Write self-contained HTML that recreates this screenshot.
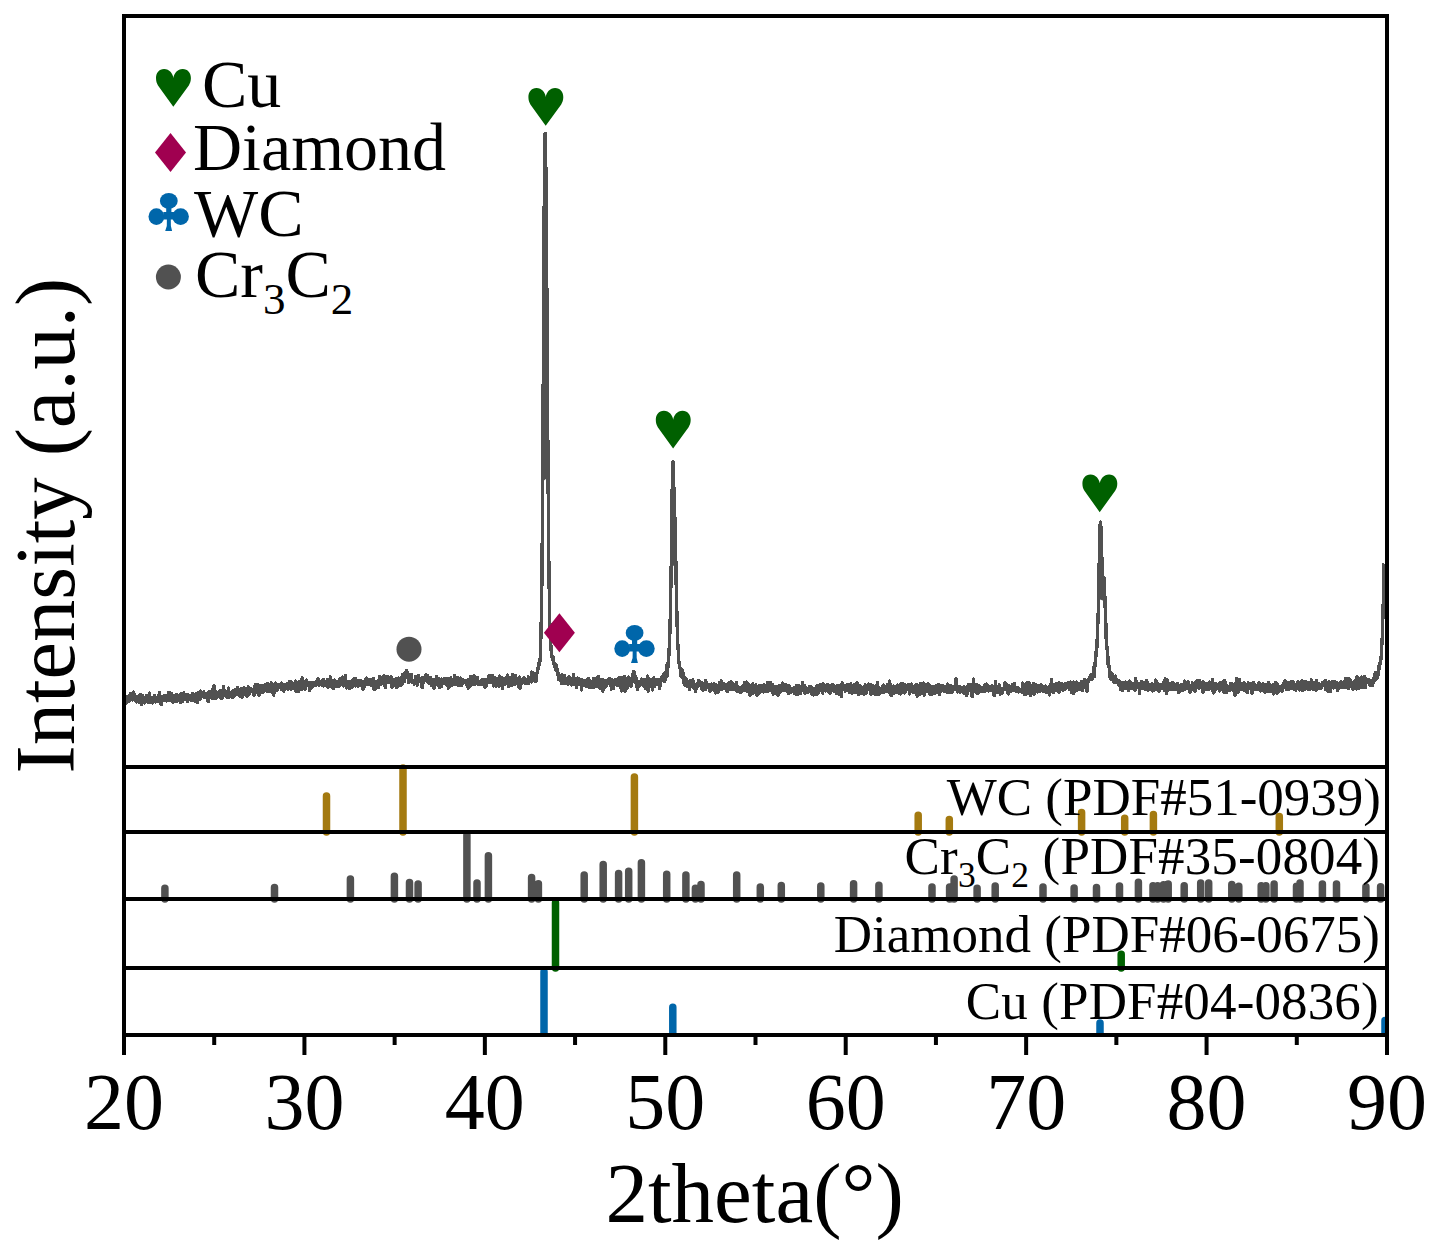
<!DOCTYPE html><html><head><meta charset="utf-8"><style>html,body{margin:0;padding:0;background:#fff;width:1445px;height:1249px;overflow:hidden}svg{display:block}</style></head><body><svg width="1445" height="1249" viewBox="0 0 1445 1249"><rect width="1445" height="1249" fill="#fff"/><defs><clipPath id="cp"><rect x="126" y="18" width="1259" height="748"/></clipPath><clipPath id="cpb"><rect x="126" y="900" width="1259" height="135"/></clipPath></defs><polygon points="542.68,481.5 543.04,421.5 543.40,354.4 543.76,285.0 544.12,220.5 544.48,169.6 544.84,139.9 545.20,133.6 545.56,147.3 545.92,175.5 546.28,213.8 546.64,260.3 547.00,313.4 547.36,369.9 547.72,425.7 548.08,477.3" fill="#515151"/><polygon points="671.20,566.4 671.56,539.1 671.92,509.6 672.28,482.7 672.64,465.0 673.00,461.2 673.36,469.5 673.72,483.1 674.08,496.4 674.44,507.0 674.80,516.7 675.16,528.7 675.52,545.2 675.88,564.9" fill="#515151"/><polygon points="1098.52,599.0 1098.88,582.4 1099.24,563.9 1099.60,545.4 1099.96,530.2 1100.32,522.0 1100.68,522.9 1101.04,531.5 1101.40,544.1 1101.76,556.7 1102.12,567.0 1102.48,573.7 1102.84,577.0 1103.20,577.6 1103.56,577.1 1103.92,577.9 1104.28,581.9 1104.64,589.7 1105.00,601.3" fill="#515151"/><polyline clip-path="url(#cp)" points="124.0,699.3 124.4,700.1 124.7,698.5 125.1,696.8 125.4,698.0 125.8,696.5 126.2,699.4 126.5,703.0 126.9,697.9 127.2,697.5 127.6,700.6 128.0,700.2 128.3,699.5 128.7,696.6 129.0,699.1 129.4,701.1 129.8,695.4 130.1,697.9 130.5,693.8 130.8,695.5 131.2,694.0 131.6,698.5 131.9,695.6 132.3,699.9 132.6,699.6 133.0,698.6 133.4,692.1 133.7,697.6 134.1,699.0 134.4,699.4 134.8,694.8 135.2,697.7 135.5,696.3 135.9,696.8 136.2,702.0 136.6,696.8 137.0,699.0 137.3,701.5 137.7,697.4 138.0,698.7 138.4,699.3 138.8,699.2 139.1,695.6 139.5,699.2 139.8,702.8 140.2,694.6 140.6,701.4 140.9,699.3 141.3,697.2 141.6,704.6 142.0,701.1 142.4,695.6 142.7,699.1 143.1,700.5 143.4,698.4 143.8,700.8 144.2,698.7 144.5,700.8 144.9,702.9 145.2,697.0 145.6,699.4 146.0,697.6 146.3,699.2 146.7,695.5 147.0,697.2 147.4,698.3 147.8,701.4 148.1,702.0 148.5,695.1 148.8,696.6 149.2,700.6 149.6,693.2 149.9,697.5 150.3,698.5 150.6,702.3 151.0,700.7 151.4,697.8 151.7,697.7 152.1,698.0 152.4,703.0 152.8,697.5 153.2,697.9 153.5,699.7 153.9,698.3 154.2,698.1 154.6,695.5 155.0,698.6 155.3,697.4 155.7,701.9 156.0,700.5 156.4,698.6 156.8,700.5 157.1,697.6 157.5,701.5 157.8,698.6 158.2,700.2 158.6,694.9 158.9,699.5 159.3,693.8 159.6,692.8 160.0,697.7 160.4,696.0 160.7,699.0 161.1,704.8 161.4,696.2 161.8,696.7 162.2,699.0 162.5,699.8 162.9,698.0 163.2,697.9 163.6,700.4 164.0,699.9 164.3,695.5 164.7,698.2 165.0,698.5 165.4,695.4 165.8,699.1 166.1,696.0 166.5,701.1 166.8,698.9 167.2,698.6 167.6,696.7 167.9,698.0 168.3,692.7 168.6,695.1 169.0,699.3 169.4,692.3 169.7,700.6 170.1,693.4 170.4,700.4 170.8,695.9 171.2,700.4 171.5,698.6 171.9,693.9 172.2,701.7 172.6,702.2 173.0,698.0 173.3,697.4 173.7,697.7 174.0,695.4 174.4,701.2 174.8,696.6 175.1,698.0 175.5,695.9 175.8,696.3 176.2,694.5 176.6,701.6 176.9,697.6 177.3,700.8 177.6,698.1 178.0,696.1 178.4,697.1 178.7,696.5 179.1,698.0 179.4,697.0 179.8,697.2 180.2,694.1 180.5,695.7 180.9,702.6 181.2,696.0 181.6,695.0 182.0,698.8 182.3,701.8 182.7,693.8 183.0,697.3 183.4,696.0 183.8,692.9 184.1,699.8 184.5,697.7 184.8,697.9 185.2,695.6 185.6,699.0 185.9,696.2 186.3,697.3 186.6,694.6 187.0,694.2 187.4,701.4 187.7,696.2 188.1,698.4 188.4,697.5 188.8,696.3 189.2,696.1 189.5,699.3 189.9,696.7 190.2,697.1 190.6,697.5 191.0,700.7 191.3,699.3 191.7,698.5 192.0,695.8 192.4,693.5 192.8,700.0 193.1,700.0 193.5,696.9 193.8,698.8 194.2,699.5 194.6,699.6 194.9,699.8 195.3,695.9 195.6,701.4 196.0,693.7 196.4,699.6 196.7,698.5 197.1,699.6 197.4,702.4 197.8,701.3 198.2,693.9 198.5,692.3 198.9,699.3 199.2,694.2 199.6,697.0 200.0,699.3 200.3,692.3 200.7,691.0 201.0,697.6 201.4,696.9 201.8,696.1 202.1,696.8 202.5,694.2 202.8,692.4 203.2,696.1 203.6,693.8 203.9,691.9 204.3,697.8 204.6,696.2 205.0,697.4 205.4,693.5 205.7,694.4 206.1,693.4 206.4,693.6 206.8,696.6 207.2,693.8 207.5,697.0 207.9,696.9 208.2,701.5 208.6,691.9 209.0,698.3 209.3,695.5 209.7,695.6 210.0,691.6 210.4,694.3 210.8,697.6 211.1,695.2 211.5,695.6 211.8,694.6 212.2,698.6 212.6,695.2 212.9,689.1 213.3,693.2 213.6,689.6 214.0,686.0 214.4,693.5 214.7,698.7 215.1,695.1 215.4,691.6 215.8,692.2 216.2,697.9 216.5,695.2 216.9,694.8 217.2,694.5 217.6,694.7 218.0,696.8 218.3,696.0 218.7,695.0 219.0,691.5 219.4,695.8 219.8,692.4 220.1,697.3 220.5,690.6 220.8,693.8 221.2,694.1 221.6,690.3 221.9,698.8 222.3,698.0 222.6,692.6 223.0,696.0 223.4,694.9 223.7,686.5 224.1,694.4 224.4,693.5 224.8,693.9 225.2,690.6 225.5,692.8 225.9,693.0 226.2,696.8 226.6,694.4 227.0,693.4 227.3,697.6 227.7,691.7 228.0,692.2 228.4,688.1 228.8,697.6 229.1,695.8 229.5,695.6 229.8,694.9 230.2,693.3 230.6,693.5 230.9,692.2 231.3,692.3 231.6,693.0 232.0,697.0 232.4,694.3 232.7,692.5 233.1,691.0 233.4,690.8 233.8,697.0 234.2,693.9 234.5,692.7 234.9,691.4 235.2,689.3 235.6,692.1 236.0,694.7 236.3,691.1 236.7,691.6 237.0,691.5 237.4,692.4 237.8,687.6 238.1,691.4 238.5,689.6 238.8,694.4 239.2,689.7 239.6,693.5 239.9,696.1 240.3,690.9 240.6,690.0 241.0,692.2 241.4,691.6 241.7,688.8 242.1,692.8 242.4,697.1 242.8,690.7 243.2,690.8 243.5,688.4 243.9,692.2 244.2,687.8 244.6,688.1 245.0,694.8 245.3,688.6 245.7,694.1 246.0,695.3 246.4,691.7 246.8,692.5 247.1,696.4 247.5,690.3 247.8,689.2 248.2,687.0 248.6,690.9 248.9,694.8 249.3,693.3 249.6,688.0 250.0,688.2 250.4,689.1 250.7,691.3 251.1,689.9 251.4,691.0 251.8,691.2 252.2,689.5 252.5,690.1 252.9,690.8 253.2,689.9 253.6,691.5 254.0,695.3 254.3,691.7 254.7,690.1 255.0,685.2 255.4,691.0 255.8,684.4 256.1,685.8 256.5,692.1 256.8,691.7 257.2,689.2 257.6,684.8 257.9,688.5 258.3,687.6 258.6,691.3 259.0,695.8 259.4,690.0 259.7,687.2 260.1,686.0 260.4,689.1 260.8,688.7 261.2,685.9 261.5,689.4 261.9,685.9 262.2,692.1 262.6,692.0 263.0,692.0 263.3,687.6 263.7,690.3 264.0,688.4 264.4,687.7 264.8,687.8 265.1,685.0 265.5,684.6 265.8,690.8 266.2,688.0 266.6,689.2 266.9,691.3 267.3,683.6 267.6,686.3 268.0,688.9 268.4,689.5 268.7,687.3 269.1,691.2 269.4,688.9 269.8,684.9 270.2,685.6 270.5,690.5 270.9,689.5 271.2,682.8 271.6,691.9 272.0,689.8 272.3,691.8 272.7,687.0 273.0,687.2 273.4,684.8 273.8,695.1 274.1,687.4 274.5,692.3 274.8,686.0 275.2,688.3 275.6,683.1 275.9,686.7 276.3,690.5 276.6,684.2 277.0,690.7 277.4,688.6 277.7,684.7 278.1,686.2 278.4,686.3 278.8,687.4 279.2,686.0 279.5,685.1 279.9,686.6 280.2,684.5 280.6,683.8 281.0,687.2 281.3,689.8 281.7,683.0 282.0,687.3 282.4,685.4 282.8,684.5 283.1,689.5 283.5,685.7 283.8,691.3 284.2,684.9 284.6,688.1 284.9,686.4 285.3,684.9 285.6,688.6 286.0,686.5 286.4,688.6 286.7,686.7 287.1,683.8 287.4,686.5 287.8,686.9 288.2,689.4 288.5,684.2 288.9,686.6 289.2,681.8 289.6,688.4 290.0,683.6 290.3,681.5 290.7,686.4 291.0,689.6 291.4,682.2 291.8,683.4 292.1,684.4 292.5,683.3 292.8,687.5 293.2,684.1 293.6,684.3 293.9,688.0 294.3,684.2 294.6,687.5 295.0,683.5 295.4,682.8 295.7,681.1 296.1,691.4 296.4,685.3 296.8,686.8 297.2,686.0 297.5,686.5 297.9,686.2 298.2,691.4 298.6,683.1 299.0,681.6 299.3,683.1 299.7,682.2 300.0,688.0 300.4,688.2 300.8,683.2 301.1,682.0 301.5,684.8 301.8,689.7 302.2,677.9 302.6,687.2 302.9,682.7 303.3,688.6 303.6,682.7 304.0,684.9 304.4,681.4 304.7,682.9 305.1,689.5 305.4,687.9 305.8,684.4 306.2,683.1 306.5,680.2 306.9,684.4 307.2,685.4 307.6,685.2 308.0,685.2 308.3,682.3 308.7,685.2 309.0,685.2 309.4,688.9 309.8,690.5 310.1,684.9 310.5,683.1 310.8,685.0 311.2,683.5 311.6,683.1 311.9,685.0 312.3,682.2 312.6,686.8 313.0,684.8 313.4,685.8 313.7,684.5 314.1,683.0 314.4,682.3 314.8,684.3 315.2,683.4 315.5,685.6 315.9,684.9 316.2,681.1 316.6,685.0 317.0,681.1 317.3,683.1 317.7,684.0 318.0,678.9 318.4,685.0 318.8,685.1 319.1,684.2 319.5,683.5 319.8,683.6 320.2,681.9 320.6,683.8 320.9,683.0 321.3,684.8 321.6,681.1 322.0,685.2 322.4,684.9 322.7,684.1 323.1,683.2 323.4,685.9 323.8,679.7 324.2,685.6 324.5,685.0 324.9,685.1 325.2,685.4 325.6,682.4 326.0,683.5 326.3,686.0 326.7,685.4 327.0,684.7 327.4,679.9 327.8,685.6 328.1,687.4 328.5,686.9 328.8,684.7 329.2,679.7 329.6,686.6 329.9,683.6 330.3,676.9 330.6,685.0 331.0,679.8 331.4,680.3 331.7,682.1 332.1,687.4 332.4,682.8 332.8,684.6 333.2,688.7 333.5,688.3 333.9,683.5 334.2,683.1 334.6,680.2 335.0,681.8 335.3,684.9 335.7,684.8 336.0,684.0 336.4,686.5 336.8,681.5 337.1,683.5 337.5,685.7 337.8,685.3 338.2,686.6 338.6,684.7 338.9,682.7 339.3,684.6 339.6,680.7 340.0,678.9 340.4,685.1 340.7,683.3 341.1,684.3 341.4,678.7 341.8,682.4 342.2,681.8 342.5,681.0 342.9,677.1 343.2,682.4 343.6,685.9 344.0,684.4 344.3,681.7 344.7,683.3 345.0,685.4 345.4,675.6 345.8,682.9 346.1,684.8 346.5,685.1 346.8,688.0 347.2,686.4 347.6,684.1 347.9,684.0 348.3,685.4 348.6,681.6 349.0,683.0 349.4,685.7 349.7,688.6 350.1,682.7 350.4,683.0 350.8,683.7 351.2,686.9 351.5,683.0 351.9,687.2 352.2,680.4 352.6,682.5 353.0,682.5 353.3,685.2 353.7,686.0 354.0,678.8 354.4,680.5 354.8,683.9 355.1,681.2 355.5,678.7 355.8,685.9 356.2,684.4 356.6,684.3 356.9,681.6 357.3,685.8 357.6,682.3 358.0,686.0 358.4,680.4 358.7,680.5 359.1,683.5 359.4,680.9 359.8,684.8 360.2,683.6 360.5,680.3 360.9,683.1 361.2,681.9 361.6,685.4 362.0,681.1 362.3,681.6 362.7,686.2 363.0,689.1 363.4,688.4 363.8,683.0 364.1,683.4 364.5,687.1 364.8,682.4 365.2,680.0 365.6,683.1 365.9,684.0 366.3,680.4 366.6,678.1 367.0,678.7 367.4,684.6 367.7,680.6 368.1,682.3 368.4,683.3 368.8,684.4 369.2,681.7 369.5,684.0 369.9,680.1 370.2,681.6 370.6,679.7 371.0,685.8 371.3,682.5 371.7,680.5 372.0,681.6 372.4,681.9 372.8,684.5 373.1,678.1 373.5,679.6 373.8,681.5 374.2,689.6 374.6,685.2 374.9,682.2 375.3,684.4 375.6,688.2 376.0,681.8 376.4,681.4 376.7,685.8 377.1,683.8 377.4,684.2 377.8,680.9 378.2,687.7 378.5,687.1 378.9,683.9 379.2,684.2 379.6,676.6 380.0,684.0 380.3,681.7 380.7,683.4 381.0,684.1 381.4,681.2 381.8,677.4 382.1,683.2 382.5,680.1 382.8,681.2 383.2,680.4 383.6,681.1 383.9,675.6 384.3,685.5 384.6,682.7 385.0,685.1 385.4,687.5 385.7,682.0 386.1,676.9 386.4,679.4 386.8,678.6 387.2,680.5 387.5,682.1 387.9,676.3 388.2,682.8 388.6,677.6 389.0,682.7 389.3,681.5 389.7,680.9 390.0,681.6 390.4,680.3 390.8,680.0 391.1,677.0 391.5,681.6 391.8,686.9 392.2,687.2 392.6,685.4 392.9,683.6 393.3,679.7 393.6,685.6 394.0,681.4 394.4,681.4 394.7,680.7 395.1,681.8 395.4,680.3 395.8,681.2 396.2,678.4 396.5,680.4 396.9,687.8 397.2,681.2 397.6,680.7 398.0,682.8 398.3,683.3 398.7,678.1 399.0,680.6 399.4,683.7 399.8,681.8 400.1,681.3 400.5,685.2 400.8,678.8 401.2,680.8 401.6,678.9 401.9,684.2 402.3,674.3 402.6,677.6 403.0,677.6 403.4,680.6 403.7,680.0 404.1,681.8 404.4,673.1 404.8,679.2 405.2,675.9 405.5,674.6 405.9,677.8 406.2,673.6 406.6,670.4 407.0,675.3 407.3,672.4 407.7,675.1 408.0,678.3 408.4,678.5 408.8,682.4 409.1,677.8 409.5,674.5 409.8,677.0 410.2,676.8 410.6,676.2 410.9,681.1 411.3,678.3 411.6,674.7 412.0,682.3 412.4,680.1 412.7,681.5 413.1,680.9 413.4,682.4 413.8,680.7 414.2,684.1 414.5,681.9 414.9,681.8 415.2,681.8 415.6,676.6 416.0,680.2 416.3,679.9 416.7,681.2 417.0,676.9 417.4,685.2 417.8,680.9 418.1,677.2 418.5,675.8 418.8,679.8 419.2,680.4 419.6,678.6 419.9,680.8 420.3,678.8 420.6,682.1 421.0,678.5 421.4,680.4 421.7,683.3 422.1,687.7 422.4,677.7 422.8,679.2 423.2,678.2 423.5,682.7 423.9,677.3 424.2,679.2 424.6,680.5 425.0,677.9 425.3,678.0 425.7,679.4 426.0,674.8 426.4,676.7 426.8,679.6 427.1,681.2 427.5,680.3 427.8,675.9 428.2,679.6 428.6,683.1 428.9,682.5 429.3,680.7 429.6,678.5 430.0,682.8 430.4,679.4 430.7,677.8 431.1,678.9 431.4,685.2 431.8,681.8 432.2,684.4 432.5,679.9 432.9,683.9 433.2,679.6 433.6,680.8 434.0,688.3 434.3,683.5 434.7,679.9 435.0,681.1 435.4,682.3 435.8,684.7 436.1,680.0 436.5,676.5 436.8,680.6 437.2,681.4 437.6,681.7 437.9,685.1 438.3,682.3 438.6,683.7 439.0,678.3 439.4,683.8 439.7,687.3 440.1,683.6 440.4,682.1 440.8,681.9 441.2,686.5 441.5,678.9 441.9,681.1 442.2,682.8 442.6,683.6 443.0,680.3 443.3,682.3 443.7,680.7 444.0,681.8 444.4,681.1 444.8,678.3 445.1,681.5 445.5,684.0 445.8,678.8 446.2,680.9 446.6,683.4 446.9,678.6 447.3,682.1 447.6,678.6 448.0,684.7 448.4,688.1 448.7,687.2 449.1,681.0 449.4,683.7 449.8,681.9 450.2,681.9 450.5,686.0 450.9,677.9 451.2,684.6 451.6,681.5 452.0,685.6 452.3,682.2 452.7,679.8 453.0,682.4 453.4,683.7 453.8,681.8 454.1,683.0 454.5,680.2 454.8,675.7 455.2,684.2 455.6,683.7 455.9,682.1 456.3,681.9 456.6,684.6 457.0,680.5 457.4,679.8 457.7,681.2 458.1,685.1 458.4,677.9 458.8,685.1 459.2,680.0 459.5,678.7 459.9,685.3 460.2,681.5 460.6,678.2 461.0,680.8 461.3,684.4 461.7,685.1 462.0,680.6 462.4,683.0 462.8,683.8 463.1,680.0 463.5,682.8 463.8,681.8 464.2,680.4 464.6,680.5 464.9,682.1 465.3,681.9 465.6,680.3 466.0,680.7 466.4,685.0 466.7,682.4 467.1,684.3 467.4,685.2 467.8,683.5 468.2,688.2 468.5,679.5 468.9,684.1 469.2,680.9 469.6,687.0 470.0,686.6 470.3,676.3 470.7,679.1 471.0,683.7 471.4,684.0 471.8,683.9 472.1,681.6 472.5,683.1 472.8,683.6 473.2,681.6 473.6,684.7 473.9,675.5 474.3,683.6 474.6,678.9 475.0,684.5 475.4,681.1 475.7,679.3 476.1,682.8 476.4,679.2 476.8,679.2 477.2,677.4 477.5,681.7 477.9,683.1 478.2,684.6 478.6,681.3 479.0,684.7 479.3,681.8 479.7,681.5 480.0,683.3 480.4,684.7 480.8,680.8 481.1,681.0 481.5,681.2 481.8,681.9 482.2,679.2 482.6,684.6 482.9,680.6 483.3,683.0 483.6,679.4 484.0,682.7 484.4,682.8 484.7,680.5 485.1,687.3 485.4,682.7 485.8,686.6 486.2,684.3 486.5,679.8 486.9,680.6 487.2,682.8 487.6,681.8 488.0,681.8 488.3,680.8 488.7,676.5 489.0,681.0 489.4,675.4 489.8,682.6 490.1,679.6 490.5,679.6 490.8,681.0 491.2,682.3 491.6,677.6 491.9,676.7 492.3,678.6 492.6,675.8 493.0,678.8 493.4,686.0 493.7,678.6 494.1,683.3 494.4,677.7 494.8,682.3 495.2,680.6 495.5,681.3 495.9,683.1 496.2,686.4 496.6,682.0 497.0,681.8 497.3,678.7 497.7,683.1 498.0,680.8 498.4,683.8 498.8,681.4 499.1,686.4 499.5,675.9 499.8,680.7 500.2,684.0 500.6,680.5 500.9,679.3 501.3,680.7 501.6,677.6 502.0,681.8 502.4,688.3 502.7,684.7 503.1,678.4 503.4,679.0 503.8,680.4 504.2,684.3 504.5,679.2 504.9,679.6 505.2,684.0 505.6,683.9 506.0,680.4 506.3,678.4 506.7,677.1 507.0,679.5 507.4,675.2 507.8,683.6 508.1,679.7 508.5,682.8 508.8,686.7 509.2,684.7 509.6,678.2 509.9,683.9 510.3,684.7 510.6,679.3 511.0,678.8 511.4,681.1 511.7,676.9 512.1,685.5 512.4,674.7 512.8,678.3 513.2,680.6 513.5,680.7 513.9,681.8 514.2,682.1 514.6,680.8 515.0,684.5 515.3,675.3 515.7,681.3 516.0,679.3 516.4,681.7 516.8,681.9 517.1,678.7 517.5,679.5 517.8,683.4 518.2,682.2 518.6,679.3 518.9,686.9 519.3,687.6 519.6,677.0 520.0,681.9 520.4,688.1 520.7,683.2 521.1,681.6 521.4,680.4 521.8,679.5 522.2,680.3 522.5,679.4 522.9,682.9 523.2,679.7 523.6,679.5 524.0,677.4 524.3,680.6 524.7,678.1 525.0,680.1 525.4,683.4 525.8,681.5 526.1,681.8 526.5,681.3 526.8,680.4 527.2,679.8 527.6,679.2 527.9,682.1 528.3,676.8 528.6,683.5 529.0,679.8 529.4,677.5 529.7,678.1 530.1,677.4 530.4,679.6 530.8,677.0 531.2,682.0 531.5,676.5 531.9,672.1 532.2,676.2 532.6,672.4 533.0,677.7 533.3,680.5 533.7,679.0 534.0,673.2 534.4,674.4 534.8,681.1 535.1,676.6 535.5,675.3 535.8,677.7 536.2,681.0 536.6,677.1 536.9,673.1 537.3,672.9 537.6,672.7 538.0,668.1 538.4,665.6 538.7,667.1 539.1,662.4 539.4,662.5 539.8,659.6 540.2,661.2 540.5,645.5 540.9,637.4 541.2,622.9 541.6,601.4 542.0,571.5 542.3,531.7 542.7,481.5 543.0,421.5 543.4,354.4 543.8,285.0 544.1,220.5 544.5,169.6 544.8,139.9 545.2,133.6 545.6,147.3 545.9,175.5 546.3,213.8 546.6,260.3 547.0,313.4 547.4,369.9 547.7,425.7 548.1,477.3 548.4,522.1 548.8,559.2 549.2,588.6 549.5,610.6 549.9,626.8 550.2,637.8 550.6,640.2 551.0,649.8 551.3,650.7 551.7,653.4 552.0,656.6 552.4,658.5 552.8,659.8 553.1,656.6 553.5,661.3 553.8,663.0 554.2,664.2 554.6,666.3 554.9,663.6 555.3,665.1 555.6,669.5 556.0,664.9 556.4,670.8 556.7,670.1 557.1,671.8 557.4,669.0 557.8,672.3 558.2,675.6 558.5,678.8 558.9,679.6 559.2,677.1 559.6,677.2 560.0,675.7 560.3,679.4 560.7,677.8 561.0,680.4 561.4,683.8 561.8,678.9 562.1,675.0 562.5,676.9 562.8,675.3 563.2,676.2 563.6,683.3 563.9,680.3 564.3,675.5 564.6,681.7 565.0,683.5 565.4,679.0 565.7,678.2 566.1,679.3 566.4,681.1 566.8,682.1 567.2,683.7 567.5,683.9 567.9,683.9 568.2,684.4 568.6,682.5 569.0,676.4 569.3,680.4 569.7,681.7 570.0,679.8 570.4,683.5 570.8,680.0 571.1,678.4 571.5,685.1 571.8,683.0 572.2,681.7 572.6,683.8 572.9,684.2 573.3,682.2 573.6,674.4 574.0,679.4 574.4,680.1 574.7,678.6 575.1,682.0 575.4,684.8 575.8,680.1 576.2,678.3 576.5,687.2 576.9,680.3 577.2,678.1 577.6,682.3 578.0,682.8 578.3,679.7 578.7,683.9 579.0,680.4 579.4,679.2 579.8,682.3 580.1,684.0 580.5,680.1 580.8,682.8 581.2,681.7 581.6,689.9 581.9,680.0 582.3,685.9 582.6,681.9 583.0,681.8 583.4,684.2 583.7,684.7 584.1,685.8 584.4,683.2 584.8,680.6 585.2,680.8 585.5,683.8 585.9,684.0 586.2,686.3 586.6,683.6 587.0,685.5 587.3,686.8 587.7,683.0 588.0,678.4 588.4,679.3 588.8,678.6 589.1,687.2 589.5,680.4 589.8,686.2 590.2,684.4 590.6,687.6 590.9,685.7 591.3,682.6 591.6,682.4 592.0,683.2 592.4,683.5 592.7,681.5 593.1,683.0 593.4,687.6 593.8,678.3 594.2,683.9 594.5,680.6 594.9,683.7 595.2,685.6 595.6,683.1 596.0,685.4 596.3,678.9 596.7,686.4 597.0,681.7 597.4,685.1 597.8,683.9 598.1,676.2 598.5,681.4 598.8,684.1 599.2,687.9 599.6,684.4 599.9,684.3 600.3,679.7 600.6,687.6 601.0,688.7 601.4,683.7 601.7,683.0 602.1,679.1 602.4,686.1 602.8,691.2 603.2,685.6 603.5,687.2 603.9,685.1 604.2,680.9 604.6,687.4 605.0,680.2 605.3,683.0 605.7,684.4 606.0,686.1 606.4,684.8 606.8,684.7 607.1,681.5 607.5,680.0 607.8,683.8 608.2,681.6 608.6,680.0 608.9,680.1 609.3,682.3 609.6,678.4 610.0,679.9 610.4,679.1 610.7,684.1 611.1,684.8 611.4,689.2 611.8,679.4 612.2,681.7 612.5,686.2 612.9,683.0 613.2,682.7 613.6,688.4 614.0,682.7 614.3,680.4 614.7,679.9 615.0,684.6 615.4,684.5 615.8,679.8 616.1,680.8 616.5,685.1 616.8,685.2 617.2,681.8 617.6,685.3 617.9,685.2 618.3,678.6 618.6,682.7 619.0,684.7 619.4,682.0 619.7,677.6 620.1,682.8 620.4,685.7 620.8,688.0 621.2,677.4 621.5,690.9 621.9,680.4 622.2,686.2 622.6,687.0 623.0,686.3 623.3,684.0 623.7,680.3 624.0,685.3 624.4,681.6 624.8,676.5 625.1,691.5 625.5,685.6 625.8,688.7 626.2,681.0 626.6,687.7 626.9,688.0 627.3,687.9 627.6,683.4 628.0,680.1 628.4,682.9 628.7,677.1 629.1,678.4 629.4,683.2 629.8,679.9 630.2,681.8 630.5,681.4 630.9,686.4 631.2,683.7 631.6,679.0 632.0,681.4 632.3,674.8 632.7,675.0 633.0,677.8 633.4,671.5 633.8,674.3 634.1,671.9 634.5,676.7 634.8,682.0 635.2,676.4 635.6,680.2 635.9,678.1 636.3,678.2 636.6,678.6 637.0,686.6 637.4,689.5 637.7,684.5 638.1,681.4 638.4,685.5 638.8,682.6 639.2,685.9 639.5,684.5 639.9,684.5 640.2,685.4 640.6,682.1 641.0,682.7 641.3,679.0 641.7,682.6 642.0,679.8 642.4,683.4 642.8,681.2 643.1,684.1 643.5,685.1 643.8,679.9 644.2,681.6 644.6,681.2 644.9,685.9 645.3,688.6 645.6,686.2 646.0,682.8 646.4,687.9 646.7,679.6 647.1,688.0 647.4,682.0 647.8,676.0 648.2,691.2 648.5,688.2 648.9,680.8 649.2,684.2 649.6,683.1 650.0,684.0 650.3,679.5 650.7,681.7 651.0,684.9 651.4,684.2 651.8,686.9 652.1,683.7 652.5,690.0 652.8,681.4 653.2,684.0 653.6,677.9 653.9,679.7 654.3,686.8 654.6,680.4 655.0,684.5 655.4,682.7 655.7,679.9 656.1,681.7 656.4,681.2 656.8,681.1 657.2,684.5 657.5,684.1 657.9,680.5 658.2,679.5 658.6,682.7 659.0,681.4 659.3,684.4 659.7,688.8 660.0,683.5 660.4,680.9 660.8,680.2 661.1,678.1 661.5,677.7 661.8,677.1 662.2,678.5 662.6,678.0 662.9,680.9 663.3,677.2 663.6,677.3 664.0,673.9 664.4,681.3 664.7,677.4 665.1,680.2 665.4,676.6 665.8,677.5 666.2,671.5 666.5,672.8 666.9,676.8 667.2,664.0 667.6,668.5 668.0,667.3 668.3,660.5 668.7,657.4 669.0,653.7 669.4,643.4 669.8,634.7 670.1,623.3 670.5,608.5 670.8,589.7 671.2,566.4 671.6,539.1 671.9,509.6 672.3,482.7 672.6,465.0 673.0,461.2 673.4,469.5 673.7,483.1 674.1,496.4 674.4,507.0 674.8,516.7 675.2,528.7 675.5,545.2 675.9,564.9 676.2,584.9 676.6,602.9 677.0,618.2 677.3,630.2 677.7,644.2 678.0,644.5 678.4,654.3 678.8,662.7 679.1,661.6 679.5,663.9 679.8,667.8 680.2,668.2 680.6,675.6 680.9,670.0 681.3,676.3 681.6,671.3 682.0,677.8 682.4,676.4 682.7,670.0 683.1,678.1 683.4,675.6 683.8,677.9 684.2,684.1 684.5,676.9 684.9,677.4 685.2,685.0 685.6,681.5 686.0,685.9 686.3,682.7 686.7,679.5 687.0,682.1 687.4,686.1 687.8,685.4 688.1,682.9 688.5,683.3 688.8,683.0 689.2,681.8 689.6,689.2 689.9,683.8 690.3,680.7 690.6,682.7 691.0,686.3 691.4,686.1 691.7,684.0 692.1,682.6 692.4,684.7 692.8,679.9 693.2,681.1 693.5,687.2 693.9,683.6 694.2,686.2 694.6,688.7 695.0,687.2 695.3,685.4 695.7,691.6 696.0,687.4 696.4,684.6 696.8,687.8 697.1,686.9 697.5,683.3 697.8,686.1 698.2,685.5 698.6,680.3 698.9,685.6 699.3,685.3 699.6,684.9 700.0,681.5 700.4,685.3 700.7,686.2 701.1,686.7 701.4,683.2 701.8,688.3 702.2,683.1 702.5,686.0 702.9,690.4 703.2,684.7 703.6,685.3 704.0,689.9 704.3,685.7 704.7,686.0 705.0,687.5 705.4,689.8 705.8,680.5 706.1,684.4 706.5,683.9 706.8,683.7 707.2,684.4 707.6,684.4 707.9,687.7 708.3,684.3 708.6,687.2 709.0,688.0 709.4,684.7 709.7,687.2 710.1,691.5 710.4,687.8 710.8,685.0 711.2,686.6 711.5,684.2 711.9,687.6 712.2,689.3 712.6,684.5 713.0,686.2 713.3,690.0 713.7,685.4 714.0,687.3 714.4,683.9 714.8,684.4 715.1,685.3 715.5,692.9 715.8,685.6 716.2,685.3 716.6,685.2 716.9,686.3 717.3,688.6 717.6,687.3 718.0,692.5 718.4,687.3 718.7,690.8 719.1,687.5 719.4,688.4 719.8,682.6 720.2,686.3 720.5,686.5 720.9,686.0 721.2,680.7 721.6,689.2 722.0,685.7 722.3,685.6 722.7,686.1 723.0,686.2 723.4,688.1 723.8,683.4 724.1,684.4 724.5,687.9 724.8,687.5 725.2,686.1 725.6,685.6 725.9,684.9 726.3,687.1 726.6,690.6 727.0,684.4 727.4,691.6 727.7,689.8 728.1,686.2 728.4,689.7 728.8,683.4 729.2,682.7 729.5,684.0 729.9,686.5 730.2,686.8 730.6,686.3 731.0,688.0 731.3,681.8 731.7,689.2 732.0,683.9 732.4,686.1 732.8,686.8 733.1,684.7 733.5,684.2 733.8,685.2 734.2,688.1 734.6,689.8 734.9,689.8 735.3,685.4 735.6,686.0 736.0,685.7 736.4,689.6 736.7,682.7 737.1,691.9 737.4,687.1 737.8,686.3 738.2,689.5 738.5,691.4 738.9,689.6 739.2,691.6 739.6,689.0 740.0,692.2 740.3,692.2 740.7,688.4 741.0,692.7 741.4,689.2 741.8,689.0 742.1,686.1 742.5,687.9 742.8,690.9 743.2,685.1 743.6,690.5 743.9,689.7 744.3,689.5 744.6,682.6 745.0,688.4 745.4,690.6 745.7,686.6 746.1,689.0 746.4,682.1 746.8,690.6 747.2,686.9 747.5,691.2 747.9,683.6 748.2,690.7 748.6,688.1 749.0,691.0 749.3,686.2 749.7,687.0 750.0,695.0 750.4,686.4 750.8,686.8 751.1,688.0 751.5,685.9 751.8,692.1 752.2,693.6 752.6,686.8 752.9,683.9 753.3,692.0 753.6,691.9 754.0,691.1 754.4,692.0 754.7,686.3 755.1,688.3 755.4,684.9 755.8,684.8 756.2,691.5 756.5,686.9 756.9,695.2 757.2,689.0 757.6,687.0 758.0,691.0 758.3,693.8 758.7,690.1 759.0,685.4 759.4,689.8 759.8,692.6 760.1,687.4 760.5,686.6 760.8,691.6 761.2,689.2 761.6,685.7 761.9,687.7 762.3,686.7 762.6,689.6 763.0,689.1 763.4,692.0 763.7,690.8 764.1,684.4 764.4,689.9 764.8,691.3 765.2,690.1 765.5,691.7 765.9,687.3 766.2,686.1 766.6,691.4 767.0,685.8 767.3,682.7 767.7,691.7 768.0,686.8 768.4,687.9 768.8,684.9 769.1,685.1 769.5,685.6 769.8,687.8 770.2,689.8 770.6,682.4 770.9,690.9 771.3,685.5 771.6,685.8 772.0,690.7 772.4,688.6 772.7,684.5 773.1,694.0 773.4,686.4 773.8,689.5 774.2,689.4 774.5,692.8 774.9,687.5 775.2,691.6 775.6,686.7 776.0,692.0 776.3,686.7 776.7,687.8 777.0,694.1 777.4,689.7 777.8,689.1 778.1,695.1 778.5,689.8 778.8,686.5 779.2,690.9 779.6,685.5 779.9,692.0 780.3,692.2 780.6,687.2 781.0,687.1 781.4,689.3 781.7,688.9 782.1,686.1 782.4,690.4 782.8,683.1 783.2,687.6 783.5,687.7 783.9,688.1 784.2,689.7 784.6,685.4 785.0,690.5 785.3,688.3 785.7,687.0 786.0,685.0 786.4,685.5 786.8,689.8 787.1,686.1 787.5,689.0 787.8,691.8 788.2,691.7 788.6,693.2 788.9,688.0 789.3,685.8 789.6,691.7 790.0,689.7 790.4,692.0 790.7,688.9 791.1,692.2 791.4,691.2 791.8,690.8 792.2,690.2 792.5,689.9 792.9,689.5 793.2,689.5 793.6,691.6 794.0,687.4 794.3,693.7 794.7,688.5 795.0,691.6 795.4,688.6 795.8,688.1 796.1,694.5 796.5,688.0 796.8,685.3 797.2,686.8 797.6,687.9 797.9,694.9 798.3,689.4 798.6,691.4 799.0,686.0 799.4,689.8 799.7,690.7 800.1,693.9 800.4,686.9 800.8,690.5 801.2,689.7 801.5,686.0 801.9,688.8 802.2,688.1 802.6,682.3 803.0,690.5 803.3,690.3 803.7,687.6 804.0,685.1 804.4,693.0 804.8,689.6 805.1,691.7 805.5,692.8 805.8,687.4 806.2,691.1 806.6,688.2 806.9,688.7 807.3,688.6 807.6,688.8 808.0,692.0 808.4,689.2 808.7,688.4 809.1,688.1 809.4,689.8 809.8,686.3 810.2,687.4 810.5,688.7 810.9,687.3 811.2,688.5 811.6,687.1 812.0,694.5 812.3,692.6 812.7,690.1 813.0,688.7 813.4,695.0 813.8,689.7 814.1,688.6 814.5,689.7 814.8,689.7 815.2,692.8 815.6,688.8 815.9,694.7 816.3,686.4 816.6,690.8 817.0,686.0 817.4,693.9 817.7,687.9 818.1,688.7 818.4,691.4 818.8,692.4 819.2,685.7 819.5,687.9 819.9,684.9 820.2,689.2 820.6,688.6 821.0,687.9 821.3,686.9 821.7,687.8 822.0,686.8 822.4,690.3 822.8,693.1 823.1,683.4 823.5,688.5 823.8,687.7 824.2,690.2 824.6,686.2 824.9,688.4 825.3,685.9 825.6,690.8 826.0,689.1 826.4,688.4 826.7,689.9 827.1,688.2 827.4,684.5 827.8,690.5 828.2,689.7 828.5,688.4 828.9,691.6 829.2,692.3 829.6,685.8 830.0,686.7 830.3,693.2 830.7,692.8 831.0,686.8 831.4,685.5 831.8,687.1 832.1,687.5 832.5,684.4 832.8,688.9 833.2,685.3 833.6,685.5 833.9,691.4 834.3,686.9 834.6,688.6 835.0,690.6 835.4,691.1 835.7,687.9 836.1,689.0 836.4,686.5 836.8,693.7 837.2,690.7 837.5,685.8 837.9,688.9 838.2,690.8 838.6,690.2 839.0,694.0 839.3,692.7 839.7,687.3 840.0,688.6 840.4,685.3 840.8,689.5 841.1,689.3 841.5,696.4 841.8,689.1 842.2,683.0 842.6,687.0 842.9,689.2 843.3,685.3 843.6,686.4 844.0,687.8 844.4,689.8 844.7,688.4 845.1,686.4 845.4,691.1 845.8,687.3 846.2,687.5 846.5,685.0 846.9,686.7 847.2,690.7 847.6,684.3 848.0,688.7 848.3,690.9 848.7,687.8 849.0,689.5 849.4,685.7 849.8,692.5 850.1,691.9 850.5,689.5 850.8,683.9 851.2,685.9 851.6,691.6 851.9,693.6 852.3,689.7 852.6,692.3 853.0,687.2 853.4,688.3 853.7,688.9 854.1,690.0 854.4,684.6 854.8,691.5 855.2,692.6 855.5,685.6 855.9,685.1 856.2,689.8 856.6,687.0 857.0,682.2 857.3,691.1 857.7,689.3 858.0,687.5 858.4,694.8 858.8,689.2 859.1,686.7 859.5,689.1 859.8,685.9 860.2,686.7 860.6,689.9 860.9,687.3 861.3,687.6 861.6,693.5 862.0,691.3 862.4,691.1 862.7,690.3 863.1,690.2 863.4,692.9 863.8,688.8 864.2,694.1 864.5,686.2 864.9,688.1 865.2,685.0 865.6,687.9 866.0,690.3 866.3,692.9 866.7,687.0 867.0,688.9 867.4,687.8 867.8,686.8 868.1,685.5 868.5,689.0 868.8,684.0 869.2,689.2 869.6,688.9 869.9,687.0 870.3,686.0 870.6,685.0 871.0,694.1 871.4,685.1 871.7,693.2 872.1,690.5 872.4,687.8 872.8,685.6 873.2,691.8 873.5,693.7 873.9,686.2 874.2,688.0 874.6,691.8 875.0,689.8 875.3,694.5 875.7,687.3 876.0,690.4 876.4,685.4 876.8,694.7 877.1,686.8 877.5,682.7 877.8,688.5 878.2,688.5 878.6,694.2 878.9,687.9 879.3,688.8 879.6,690.5 880.0,693.3 880.4,688.7 880.7,691.8 881.1,690.3 881.4,688.0 881.8,689.1 882.2,688.9 882.5,686.3 882.9,692.3 883.2,685.0 883.6,692.1 884.0,691.5 884.3,688.6 884.7,686.7 885.0,688.2 885.4,690.2 885.8,690.9 886.1,689.7 886.5,691.6 886.8,687.3 887.2,689.5 887.6,684.5 887.9,691.0 888.3,689.3 888.6,687.7 889.0,692.1 889.4,690.8 889.7,681.0 890.1,689.0 890.4,684.8 890.8,691.8 891.2,695.8 891.5,687.4 891.9,689.1 892.2,688.2 892.6,689.8 893.0,690.7 893.3,692.5 893.7,686.1 894.0,693.3 894.4,686.2 894.8,689.6 895.1,692.1 895.5,690.9 895.8,686.2 896.2,686.9 896.6,687.6 896.9,688.7 897.3,692.1 897.6,685.2 898.0,690.2 898.4,690.6 898.7,690.4 899.1,690.2 899.4,693.1 899.8,690.2 900.2,691.3 900.5,690.4 900.9,693.9 901.2,683.5 901.6,692.4 902.0,688.1 902.3,688.1 902.7,686.1 903.0,683.6 903.4,687.8 903.8,686.9 904.1,690.2 904.5,684.7 904.8,692.9 905.2,689.6 905.6,688.2 905.9,686.9 906.3,686.7 906.6,685.7 907.0,687.3 907.4,688.9 907.7,688.4 908.1,684.9 908.4,688.1 908.8,686.4 909.2,689.3 909.5,694.1 909.9,690.6 910.2,688.0 910.6,684.3 911.0,684.9 911.3,684.1 911.7,690.9 912.0,686.7 912.4,689.0 912.8,687.1 913.1,689.1 913.5,692.8 913.8,686.9 914.2,687.9 914.6,686.6 914.9,691.3 915.3,686.0 915.6,685.7 916.0,685.0 916.4,684.9 916.7,690.2 917.1,696.0 917.4,686.1 917.8,691.5 918.2,689.6 918.5,685.8 918.9,688.1 919.2,688.2 919.6,686.9 920.0,694.3 920.3,683.5 920.7,689.9 921.0,689.8 921.4,687.2 921.8,689.3 922.1,691.3 922.5,689.3 922.8,690.0 923.2,690.8 923.6,683.2 923.9,693.0 924.3,695.2 924.6,691.6 925.0,691.7 925.4,684.9 925.7,688.5 926.1,686.6 926.4,687.2 926.8,691.6 927.2,686.6 927.5,688.5 927.9,683.5 928.2,688.4 928.6,689.1 929.0,686.9 929.3,686.8 929.7,694.1 930.0,685.5 930.4,685.9 930.8,686.6 931.1,692.2 931.5,694.7 931.8,689.8 932.2,686.8 932.6,687.7 932.9,691.8 933.3,686.3 933.6,692.9 934.0,692.8 934.4,689.0 934.7,690.7 935.1,690.9 935.4,693.2 935.8,685.9 936.2,692.2 936.5,687.8 936.9,686.7 937.2,689.1 937.6,688.2 938.0,686.1 938.3,684.4 938.7,686.2 939.0,692.9 939.4,694.3 939.8,690.7 940.1,692.2 940.5,687.4 940.8,688.6 941.2,689.6 941.6,685.8 941.9,686.1 942.3,689.1 942.6,687.9 943.0,685.9 943.4,689.9 943.7,688.1 944.1,691.7 944.4,688.8 944.8,688.0 945.2,689.2 945.5,688.4 945.9,687.0 946.2,687.7 946.6,690.9 947.0,690.7 947.3,692.4 947.7,684.1 948.0,687.7 948.4,687.7 948.8,689.3 949.1,687.6 949.5,687.4 949.8,691.0 950.2,689.3 950.6,685.6 950.9,692.6 951.3,691.6 951.6,687.2 952.0,691.2 952.4,686.8 952.7,692.0 953.1,688.2 953.4,686.6 953.8,687.8 954.2,686.7 954.5,689.4 954.9,689.3 955.2,688.9 955.6,687.3 956.0,678.6 956.3,689.1 956.7,683.5 957.0,689.5 957.4,692.0 957.8,689.6 958.1,687.7 958.5,688.3 958.8,688.5 959.2,687.3 959.6,687.2 959.9,686.3 960.3,692.2 960.6,688.8 961.0,691.5 961.4,688.1 961.7,689.0 962.1,688.4 962.4,690.1 962.8,691.2 963.2,689.5 963.5,686.9 963.9,686.7 964.2,693.5 964.6,688.1 965.0,688.0 965.3,692.9 965.7,691.9 966.0,690.3 966.4,687.7 966.8,695.4 967.1,689.9 967.5,690.4 967.8,688.4 968.2,684.9 968.6,685.1 968.9,690.0 969.3,689.9 969.6,688.2 970.0,685.6 970.4,684.8 970.7,687.9 971.1,684.8 971.4,691.3 971.8,692.1 972.2,696.8 972.5,691.3 972.9,687.2 973.2,686.4 973.6,679.2 974.0,687.2 974.3,688.3 974.7,691.5 975.0,690.5 975.4,690.5 975.8,689.4 976.1,690.7 976.5,692.9 976.8,685.8 977.2,687.5 977.6,684.9 977.9,693.4 978.3,692.5 978.6,690.9 979.0,685.5 979.4,689.3 979.7,688.2 980.1,689.1 980.4,688.3 980.8,690.3 981.2,687.7 981.5,691.2 981.9,689.5 982.2,688.0 982.6,688.5 983.0,687.6 983.3,691.1 983.7,688.1 984.0,689.6 984.4,687.7 984.8,684.7 985.1,691.4 985.5,685.9 985.8,690.7 986.2,690.0 986.6,684.2 986.9,686.2 987.3,687.4 987.6,686.5 988.0,685.5 988.4,690.9 988.7,688.1 989.1,689.9 989.4,687.6 989.8,689.7 990.2,686.7 990.5,688.7 990.9,690.4 991.2,688.9 991.6,687.5 992.0,685.8 992.3,689.3 992.7,689.8 993.0,688.1 993.4,686.7 993.8,690.3 994.1,695.8 994.5,688.0 994.8,689.7 995.2,689.9 995.6,681.6 995.9,689.2 996.3,686.8 996.6,692.7 997.0,688.1 997.4,686.6 997.7,688.2 998.1,689.3 998.4,687.2 998.8,688.7 999.2,685.0 999.5,688.2 999.9,691.0 1000.2,694.3 1000.6,690.8 1001.0,689.6 1001.3,692.1 1001.7,691.6 1002.0,693.5 1002.4,691.8 1002.8,688.5 1003.1,689.5 1003.5,689.3 1003.8,689.6 1004.2,689.4 1004.6,686.6 1004.9,682.9 1005.3,686.9 1005.6,683.1 1006.0,689.0 1006.4,688.8 1006.7,684.1 1007.1,690.7 1007.4,691.2 1007.8,689.1 1008.2,693.5 1008.5,694.0 1008.9,685.4 1009.2,691.7 1009.6,690.0 1010.0,690.0 1010.3,691.4 1010.7,686.8 1011.0,687.1 1011.4,686.5 1011.8,686.7 1012.1,688.5 1012.5,684.7 1012.8,685.8 1013.2,690.4 1013.6,688.6 1013.9,689.8 1014.3,683.5 1014.6,686.6 1015.0,687.2 1015.4,688.9 1015.7,687.1 1016.1,691.4 1016.4,688.6 1016.8,688.8 1017.2,688.8 1017.5,690.7 1017.9,687.4 1018.2,691.9 1018.6,690.0 1019.0,689.2 1019.3,688.9 1019.7,690.2 1020.0,691.6 1020.4,691.4 1020.8,689.8 1021.1,691.2 1021.5,689.1 1021.8,692.3 1022.2,688.7 1022.6,682.9 1022.9,692.5 1023.3,689.0 1023.6,685.5 1024.0,688.2 1024.4,686.3 1024.7,694.6 1025.1,690.1 1025.4,684.4 1025.8,690.3 1026.2,687.6 1026.5,694.1 1026.9,685.8 1027.2,682.5 1027.6,688.9 1028.0,687.8 1028.3,687.6 1028.7,682.8 1029.0,690.0 1029.4,693.4 1029.8,683.4 1030.1,692.0 1030.5,687.2 1030.8,695.3 1031.2,690.0 1031.6,688.2 1031.9,691.9 1032.3,690.2 1032.6,687.1 1033.0,690.8 1033.4,687.3 1033.7,683.8 1034.1,694.5 1034.4,687.8 1034.8,687.1 1035.2,689.7 1035.5,684.4 1035.9,685.0 1036.2,687.4 1036.6,687.3 1037.0,688.9 1037.3,691.9 1037.7,687.4 1038.0,690.0 1038.4,690.3 1038.8,685.6 1039.1,689.3 1039.5,686.0 1039.8,691.6 1040.2,689.8 1040.6,688.6 1040.9,684.8 1041.3,688.8 1041.6,686.3 1042.0,690.4 1042.4,688.1 1042.7,686.1 1043.1,691.0 1043.4,690.4 1043.8,686.7 1044.2,691.6 1044.5,687.5 1044.9,687.4 1045.2,688.6 1045.6,686.1 1046.0,687.0 1046.3,687.8 1046.7,692.5 1047.0,692.4 1047.4,687.4 1047.8,692.6 1048.1,688.0 1048.5,689.1 1048.8,690.5 1049.2,688.9 1049.6,694.8 1049.9,688.7 1050.3,684.6 1050.6,691.6 1051.0,686.8 1051.4,687.1 1051.7,679.5 1052.1,690.7 1052.4,690.1 1052.8,690.1 1053.2,690.5 1053.5,692.5 1053.9,687.6 1054.2,690.4 1054.6,685.6 1055.0,686.7 1055.3,690.6 1055.7,688.7 1056.0,683.9 1056.4,688.6 1056.8,687.1 1057.1,685.2 1057.5,688.7 1057.8,686.4 1058.2,683.1 1058.6,684.3 1058.9,692.4 1059.3,683.1 1059.6,688.0 1060.0,689.0 1060.4,689.1 1060.7,683.9 1061.1,686.4 1061.4,687.6 1061.8,689.4 1062.2,685.4 1062.5,683.9 1062.9,689.9 1063.2,690.2 1063.6,688.1 1064.0,685.3 1064.3,688.1 1064.7,687.3 1065.0,689.3 1065.4,683.4 1065.8,687.2 1066.1,686.4 1066.5,683.7 1066.8,687.4 1067.2,686.9 1067.6,685.6 1067.9,687.8 1068.3,682.7 1068.6,686.5 1069.0,687.8 1069.4,687.4 1069.7,689.5 1070.1,683.1 1070.4,682.2 1070.8,687.1 1071.2,687.6 1071.5,692.3 1071.9,688.0 1072.2,683.8 1072.6,688.5 1073.0,683.8 1073.3,682.0 1073.7,693.4 1074.0,686.9 1074.4,688.0 1074.8,687.5 1075.1,691.0 1075.5,686.7 1075.8,689.2 1076.2,682.9 1076.6,681.9 1076.9,689.7 1077.3,689.8 1077.6,687.0 1078.0,686.2 1078.4,686.0 1078.7,683.5 1079.1,689.7 1079.4,687.2 1079.8,686.7 1080.2,686.3 1080.5,688.1 1080.9,686.5 1081.2,687.1 1081.6,681.6 1082.0,686.2 1082.3,690.8 1082.7,683.2 1083.0,684.2 1083.4,686.9 1083.8,687.0 1084.1,685.9 1084.5,679.5 1084.8,685.3 1085.2,680.4 1085.6,681.3 1085.9,685.0 1086.3,682.4 1086.6,685.3 1087.0,691.7 1087.4,684.8 1087.7,684.4 1088.1,679.6 1088.4,680.1 1088.8,678.6 1089.2,679.7 1089.5,677.8 1089.9,678.6 1090.2,679.5 1090.6,676.8 1091.0,675.1 1091.3,674.6 1091.7,679.1 1092.0,677.2 1092.4,679.1 1092.8,678.3 1093.1,673.3 1093.5,675.0 1093.8,667.7 1094.2,676.6 1094.6,671.7 1094.9,665.7 1095.3,660.5 1095.6,661.9 1096.0,652.1 1096.4,651.0 1096.7,650.2 1097.1,641.8 1097.4,634.2 1097.8,624.7 1098.2,613.1 1098.5,599.0 1098.9,582.4 1099.2,563.9 1099.6,545.4 1100.0,530.2 1100.3,522.0 1100.7,522.9 1101.0,531.5 1101.4,544.1 1101.8,556.7 1102.1,567.0 1102.5,573.7 1102.8,577.0 1103.2,577.6 1103.6,577.1 1103.9,577.9 1104.3,581.9 1104.6,589.7 1105.0,601.3 1105.4,613.3 1105.7,617.5 1106.1,636.7 1106.4,641.8 1106.8,645.7 1107.2,649.5 1107.5,652.1 1107.9,656.8 1108.2,665.2 1108.6,665.3 1109.0,665.2 1109.3,668.8 1109.7,676.2 1110.0,672.3 1110.4,672.7 1110.8,679.2 1111.1,677.6 1111.5,677.2 1111.8,676.1 1112.2,674.1 1112.6,675.7 1112.9,678.2 1113.3,679.4 1113.6,681.4 1114.0,682.3 1114.4,681.8 1114.7,682.1 1115.1,678.9 1115.4,676.0 1115.8,680.8 1116.2,679.8 1116.5,680.8 1116.9,682.1 1117.2,679.6 1117.6,680.1 1118.0,683.1 1118.3,683.8 1118.7,681.8 1119.0,685.2 1119.4,683.3 1119.8,681.1 1120.1,684.2 1120.5,689.5 1120.8,682.4 1121.2,687.6 1121.6,688.3 1121.9,688.7 1122.3,682.3 1122.6,690.3 1123.0,685.1 1123.4,684.1 1123.7,684.2 1124.1,686.6 1124.4,685.1 1124.8,684.5 1125.2,688.7 1125.5,683.1 1125.9,682.2 1126.2,687.4 1126.6,687.2 1127.0,688.4 1127.3,682.3 1127.7,688.4 1128.0,686.8 1128.4,690.4 1128.8,682.0 1129.1,686.1 1129.5,684.8 1129.8,681.1 1130.2,683.6 1130.6,688.8 1130.9,684.3 1131.3,683.7 1131.6,688.1 1132.0,688.5 1132.4,688.5 1132.7,683.6 1133.1,685.6 1133.4,688.7 1133.8,684.0 1134.2,683.7 1134.5,688.2 1134.9,690.3 1135.2,682.7 1135.6,678.6 1136.0,681.9 1136.3,683.1 1136.7,685.6 1137.0,687.7 1137.4,685.6 1137.8,684.0 1138.1,686.4 1138.5,683.3 1138.8,685.9 1139.2,684.3 1139.6,693.6 1139.9,688.4 1140.3,683.8 1140.6,683.3 1141.0,684.9 1141.4,681.5 1141.7,684.1 1142.1,684.1 1142.4,688.6 1142.8,685.0 1143.2,684.0 1143.5,682.4 1143.9,682.9 1144.2,686.0 1144.6,685.6 1145.0,689.4 1145.3,684.5 1145.7,689.2 1146.0,687.0 1146.4,686.2 1146.8,680.6 1147.1,682.6 1147.5,688.3 1147.8,690.2 1148.2,686.9 1148.6,688.4 1148.9,685.1 1149.3,685.3 1149.6,684.4 1150.0,689.0 1150.4,687.3 1150.7,685.7 1151.1,685.4 1151.4,687.9 1151.8,687.2 1152.2,684.0 1152.5,691.1 1152.9,687.1 1153.2,686.4 1153.6,690.5 1154.0,689.2 1154.3,686.1 1154.7,687.9 1155.0,683.4 1155.4,684.6 1155.8,680.0 1156.1,689.8 1156.5,681.1 1156.8,688.3 1157.2,684.1 1157.6,683.7 1157.9,685.9 1158.3,687.1 1158.6,688.1 1159.0,691.4 1159.4,687.4 1159.7,688.9 1160.1,684.7 1160.4,688.4 1160.8,686.9 1161.2,685.1 1161.5,686.2 1161.9,686.3 1162.2,687.0 1162.6,687.6 1163.0,685.0 1163.3,684.4 1163.7,688.5 1164.0,681.7 1164.4,684.7 1164.8,690.8 1165.1,678.9 1165.5,684.5 1165.8,688.4 1166.2,681.8 1166.6,693.7 1166.9,679.2 1167.3,690.5 1167.6,690.8 1168.0,689.0 1168.4,685.9 1168.7,687.5 1169.1,684.0 1169.4,688.8 1169.8,683.4 1170.2,685.7 1170.5,689.3 1170.9,683.4 1171.2,685.5 1171.6,687.0 1172.0,682.7 1172.3,689.8 1172.7,687.5 1173.0,682.3 1173.4,686.4 1173.8,684.3 1174.1,684.7 1174.5,686.7 1174.8,684.5 1175.2,689.2 1175.6,684.5 1175.9,689.3 1176.3,686.4 1176.6,688.9 1177.0,685.0 1177.4,685.1 1177.7,683.3 1178.1,688.1 1178.4,689.2 1178.8,692.5 1179.2,690.1 1179.5,687.2 1179.9,685.9 1180.2,687.6 1180.6,686.5 1181.0,690.6 1181.3,689.2 1181.7,684.2 1182.0,684.6 1182.4,690.4 1182.8,687.4 1183.1,685.9 1183.5,689.9 1183.8,685.5 1184.2,685.8 1184.6,685.3 1184.9,681.1 1185.3,689.0 1185.6,683.2 1186.0,685.0 1186.4,684.5 1186.7,688.6 1187.1,686.4 1187.4,686.6 1187.8,681.9 1188.2,686.3 1188.5,682.4 1188.9,687.4 1189.2,687.6 1189.6,686.5 1190.0,692.3 1190.3,688.0 1190.7,688.2 1191.0,687.0 1191.4,686.0 1191.8,689.3 1192.1,689.6 1192.5,682.9 1192.8,689.5 1193.2,688.0 1193.6,689.3 1193.9,687.9 1194.3,683.1 1194.6,683.3 1195.0,691.7 1195.4,687.3 1195.7,682.6 1196.1,687.5 1196.4,685.6 1196.8,681.4 1197.2,680.2 1197.5,682.1 1197.9,687.3 1198.2,686.4 1198.6,685.9 1199.0,687.4 1199.3,688.3 1199.7,680.7 1200.0,685.7 1200.4,684.3 1200.8,683.1 1201.1,685.0 1201.5,686.2 1201.8,685.8 1202.2,682.5 1202.6,685.2 1202.9,692.2 1203.3,683.6 1203.6,681.9 1204.0,687.4 1204.4,688.3 1204.7,687.9 1205.1,683.5 1205.4,689.4 1205.8,684.4 1206.2,683.4 1206.5,684.9 1206.9,686.3 1207.2,688.6 1207.6,688.3 1208.0,686.5 1208.3,689.2 1208.7,686.8 1209.0,689.1 1209.4,682.7 1209.8,682.2 1210.1,688.8 1210.5,682.7 1210.8,685.7 1211.2,686.3 1211.6,685.2 1211.9,685.3 1212.3,690.5 1212.6,679.5 1213.0,689.1 1213.4,693.0 1213.7,686.7 1214.1,686.5 1214.4,688.6 1214.8,691.7 1215.2,683.3 1215.5,686.8 1215.9,686.1 1216.2,688.2 1216.6,687.0 1217.0,688.4 1217.3,685.4 1217.7,686.7 1218.0,684.7 1218.4,684.7 1218.8,686.2 1219.1,686.2 1219.5,683.3 1219.8,691.0 1220.2,686.2 1220.6,682.7 1220.9,689.7 1221.3,684.5 1221.6,688.0 1222.0,686.6 1222.4,687.3 1222.7,687.1 1223.1,685.0 1223.4,686.7 1223.8,692.3 1224.2,680.3 1224.5,686.8 1224.9,687.8 1225.2,683.7 1225.6,682.8 1226.0,692.6 1226.3,685.6 1226.7,692.4 1227.0,688.1 1227.4,686.8 1227.8,687.9 1228.1,688.4 1228.5,689.9 1228.8,687.8 1229.2,687.0 1229.6,687.1 1229.9,690.4 1230.3,688.9 1230.6,683.8 1231.0,684.8 1231.4,687.5 1231.7,684.9 1232.1,685.6 1232.4,683.9 1232.8,685.9 1233.2,687.8 1233.5,689.4 1233.9,686.6 1234.2,692.4 1234.6,686.4 1235.0,695.5 1235.3,689.4 1235.7,688.0 1236.0,685.2 1236.4,678.7 1236.8,686.2 1237.1,687.1 1237.5,692.0 1237.8,682.7 1238.2,691.9 1238.6,685.9 1238.9,688.6 1239.3,679.5 1239.6,687.0 1240.0,685.6 1240.4,688.5 1240.7,686.9 1241.1,683.4 1241.4,689.3 1241.8,688.6 1242.2,688.3 1242.5,689.4 1242.9,689.7 1243.2,686.5 1243.6,682.8 1244.0,682.7 1244.3,690.4 1244.7,688.6 1245.0,686.9 1245.4,685.4 1245.8,686.7 1246.1,686.7 1246.5,685.7 1246.8,684.7 1247.2,692.7 1247.6,687.2 1247.9,684.9 1248.3,683.0 1248.6,684.6 1249.0,688.6 1249.4,688.7 1249.7,686.0 1250.1,686.8 1250.4,685.8 1250.8,683.5 1251.2,690.3 1251.5,687.7 1251.9,693.5 1252.2,684.5 1252.6,686.2 1253.0,689.1 1253.3,685.9 1253.7,682.7 1254.0,684.0 1254.4,686.9 1254.8,687.6 1255.1,686.3 1255.5,689.4 1255.8,689.4 1256.2,687.5 1256.6,686.7 1256.9,685.9 1257.3,688.1 1257.6,689.2 1258.0,686.8 1258.4,687.9 1258.7,685.7 1259.1,682.7 1259.4,683.8 1259.8,688.7 1260.2,687.9 1260.5,691.1 1260.9,686.8 1261.2,689.0 1261.6,690.3 1262.0,689.4 1262.3,684.9 1262.7,686.1 1263.0,687.0 1263.4,683.8 1263.8,687.9 1264.1,689.5 1264.5,685.3 1264.8,692.1 1265.2,685.8 1265.6,686.0 1265.9,685.9 1266.3,684.6 1266.6,687.8 1267.0,686.7 1267.4,691.3 1267.7,688.3 1268.1,688.1 1268.4,686.0 1268.8,682.6 1269.2,686.3 1269.5,684.2 1269.9,689.3 1270.2,686.5 1270.6,691.3 1271.0,688.7 1271.3,688.9 1271.7,687.2 1272.0,687.2 1272.4,688.4 1272.8,689.2 1273.1,684.6 1273.5,688.0 1273.8,693.9 1274.2,686.3 1274.6,685.9 1274.9,684.6 1275.3,682.5 1275.6,689.9 1276.0,686.7 1276.4,687.4 1276.7,691.7 1277.1,693.5 1277.4,684.0 1277.8,689.4 1278.2,688.2 1278.5,687.6 1278.9,687.8 1279.2,686.4 1279.6,690.9 1280.0,688.2 1280.3,687.4 1280.7,689.9 1281.0,688.9 1281.4,687.7 1281.8,687.3 1282.1,691.3 1282.5,687.8 1282.8,686.1 1283.2,683.9 1283.6,685.4 1283.9,683.4 1284.3,686.6 1284.6,687.0 1285.0,680.6 1285.4,686.3 1285.7,688.1 1286.1,686.7 1286.4,683.6 1286.8,689.8 1287.2,684.3 1287.5,682.8 1287.9,683.2 1288.2,686.2 1288.6,688.9 1289.0,689.5 1289.3,686.8 1289.7,682.8 1290.0,684.3 1290.4,683.6 1290.8,685.6 1291.1,681.2 1291.5,686.4 1291.8,687.9 1292.2,685.7 1292.6,687.4 1292.9,683.4 1293.3,682.0 1293.6,684.3 1294.0,689.3 1294.4,688.9 1294.7,684.7 1295.1,689.4 1295.4,685.1 1295.8,690.2 1296.2,687.3 1296.5,684.7 1296.9,688.2 1297.2,683.8 1297.6,683.3 1298.0,681.9 1298.3,686.6 1298.7,685.8 1299.0,685.7 1299.4,684.7 1299.8,689.9 1300.1,684.7 1300.5,683.8 1300.8,689.3 1301.2,689.8 1301.6,686.8 1301.9,680.9 1302.3,684.1 1302.6,687.5 1303.0,685.8 1303.4,690.1 1303.7,681.9 1304.1,687.6 1304.4,684.0 1304.8,689.4 1305.2,685.5 1305.5,688.6 1305.9,683.9 1306.2,681.7 1306.6,682.6 1307.0,684.0 1307.3,682.8 1307.7,689.0 1308.0,689.4 1308.4,686.4 1308.8,682.7 1309.1,685.3 1309.5,683.7 1309.8,689.6 1310.2,686.4 1310.6,686.9 1310.9,684.4 1311.3,679.9 1311.6,683.4 1312.0,682.4 1312.4,686.5 1312.7,685.8 1313.1,683.2 1313.4,684.4 1313.8,689.8 1314.2,682.8 1314.5,682.9 1314.9,684.8 1315.2,683.4 1315.6,684.2 1316.0,686.9 1316.3,690.2 1316.7,680.4 1317.0,685.3 1317.4,685.5 1317.8,685.1 1318.1,684.8 1318.5,684.4 1318.8,688.1 1319.2,684.0 1319.6,684.9 1319.9,685.3 1320.3,685.5 1320.6,684.8 1321.0,688.0 1321.4,685.2 1321.7,685.7 1322.1,685.0 1322.4,682.4 1322.8,682.8 1323.2,682.2 1323.5,685.7 1323.9,683.1 1324.2,682.1 1324.6,685.8 1325.0,686.6 1325.3,680.2 1325.7,689.8 1326.0,685.2 1326.4,684.8 1326.8,688.0 1327.1,685.2 1327.5,683.3 1327.8,691.2 1328.2,682.0 1328.6,684.7 1328.9,687.4 1329.3,682.0 1329.6,684.7 1330.0,686.0 1330.4,691.7 1330.7,682.4 1331.1,684.8 1331.4,686.7 1331.8,685.1 1332.2,681.5 1332.5,686.0 1332.9,685.2 1333.2,686.1 1333.6,688.0 1334.0,687.7 1334.3,685.9 1334.7,685.7 1335.0,681.7 1335.4,684.4 1335.8,685.4 1336.1,683.6 1336.5,685.0 1336.8,682.4 1337.2,689.0 1337.6,690.7 1337.9,683.6 1338.3,685.8 1338.6,684.0 1339.0,688.2 1339.4,685.8 1339.7,684.8 1340.1,684.0 1340.4,684.9 1340.8,681.8 1341.2,686.4 1341.5,682.5 1341.9,686.0 1342.2,684.9 1342.6,687.6 1343.0,684.4 1343.3,687.3 1343.7,681.9 1344.0,686.1 1344.4,683.8 1344.8,684.9 1345.1,684.6 1345.5,687.0 1345.8,678.7 1346.2,685.2 1346.6,680.1 1346.9,687.7 1347.3,678.7 1347.6,681.4 1348.0,679.5 1348.4,688.8 1348.7,680.6 1349.1,684.5 1349.4,682.7 1349.8,679.1 1350.2,683.2 1350.5,686.0 1350.9,683.6 1351.2,686.7 1351.6,683.0 1352.0,684.0 1352.3,682.9 1352.7,684.9 1353.0,689.3 1353.4,684.9 1353.8,684.4 1354.1,682.1 1354.5,681.7 1354.8,687.9 1355.2,680.7 1355.6,681.2 1355.9,683.5 1356.3,682.5 1356.6,689.1 1357.0,677.0 1357.4,684.6 1357.7,685.6 1358.1,680.4 1358.4,681.7 1358.8,684.7 1359.2,688.0 1359.5,680.8 1359.9,678.9 1360.2,686.0 1360.6,687.5 1361.0,682.3 1361.3,677.0 1361.7,687.2 1362.0,682.5 1362.4,686.2 1362.8,682.9 1363.1,681.9 1363.5,681.6 1363.8,686.9 1364.2,686.8 1364.6,676.7 1364.9,680.0 1365.3,687.5 1365.6,681.5 1366.0,678.6 1366.4,682.3 1366.7,681.9 1367.1,681.9 1367.4,680.7 1367.8,681.1 1368.2,680.6 1368.5,682.7 1368.9,679.4 1369.2,680.8 1369.6,681.1 1370.0,685.0 1370.3,682.2 1370.7,680.7 1371.0,682.4 1371.4,681.9 1371.8,683.6 1372.1,681.8 1372.5,685.2 1372.8,683.7 1373.2,679.6 1373.6,678.3 1373.9,681.7 1374.3,680.4 1374.6,678.4 1375.0,674.1 1375.4,672.8 1375.7,678.4 1376.1,679.2 1376.4,678.8 1376.8,672.4 1377.2,678.2 1377.5,673.1 1377.9,675.0 1378.2,674.2 1378.6,669.7 1379.0,669.2 1379.3,663.7 1379.7,665.3 1380.0,664.5 1380.4,663.9 1380.8,660.6 1381.1,657.5 1381.5,652.2 1381.8,645.1 1382.2,637.9 1382.6,627.3 1382.9,615.8 1383.3,600.8 1383.6,582.3 1384.0,563.5" fill="none" stroke="#515151" stroke-width="3.4" stroke-linejoin="round" shape-rendering="crispEdges"/><path transform="translate(545.8 88.0)" d="M0 8.9C-0.6 4.5 -4 0 -9.3 0C-14.5 0 -17.4 4 -17.4 9C-17.4 12.3 -16.6 14.3 -15.4 16.4L-0.1 37.8L15.4 16.4C16.6 14.3 17.5 12.3 17.5 9C17.5 4 14.5 0 9.3 0C4 0 0.6 4.5 0 8.9Z" fill="#006000"/><path transform="translate(673.2 410.8)" d="M0 8.9C-0.6 4.5 -4 0 -9.3 0C-14.5 0 -17.4 4 -17.4 9C-17.4 12.3 -16.6 14.3 -15.4 16.4L-0.1 37.8L15.4 16.4C16.6 14.3 17.5 12.3 17.5 9C17.5 4 14.5 0 9.3 0C4 0 0.6 4.5 0 8.9Z" fill="#006000"/><path transform="translate(1099.8 474.4)" d="M0 8.9C-0.6 4.5 -4 0 -9.3 0C-14.5 0 -17.4 4 -17.4 9C-17.4 12.3 -16.6 14.3 -15.4 16.4L-0.1 37.8L15.4 16.4C16.6 14.3 17.5 12.3 17.5 9C17.5 4 14.5 0 9.3 0C4 0 0.6 4.5 0 8.9Z" fill="#006000"/><path d="M559.4 613.3L574.9 632.8L559.4 652.3L543.9 632.8Z" fill="#A00050"/><g transform="translate(634.6 625.0)" fill="#0066AA"><ellipse cx="0" cy="7.9" rx="8.9" ry="7.9"/><ellipse cx="-12.4" cy="23.6" rx="7.9" ry="8.3"/><ellipse cx="11.8" cy="23.6" rx="8.3" ry="8.3"/><path d="M-2.6 12L2.6 12L2.6 21L-2.6 21Z"/><path d="M-5.5 19L5.5 19L5.5 26.5L-5.5 26.5Z"/><path d="M-1.9 25L2 25L2.1 33L3.3 37.9L-3.6 37.9L-2 33Z"/></g><circle cx="409.0" cy="649.2" r="12.5" fill="#515151"/><path transform="translate(173.4 69.0)" d="M0 8.9C-0.6 4.5 -4 0 -9.3 0C-14.5 0 -17.4 4 -17.4 9C-17.4 12.3 -16.6 14.3 -15.4 16.4L-0.1 37.8L15.4 16.4C16.6 14.3 17.5 12.3 17.5 9C17.5 4 14.5 0 9.3 0C4 0 0.6 4.5 0 8.9Z" fill="#006000"/><path d="M170.5 133.0L186.0 152.5L170.5 172.0L155.0 152.5Z" fill="#A00050"/><g transform="translate(168.8 193.0)" fill="#0066AA"><ellipse cx="0" cy="7.9" rx="8.9" ry="7.9"/><ellipse cx="-12.4" cy="23.6" rx="7.9" ry="8.3"/><ellipse cx="11.8" cy="23.6" rx="8.3" ry="8.3"/><path d="M-2.6 12L2.6 12L2.6 21L-2.6 21Z"/><path d="M-5.5 19L5.5 19L5.5 26.5L-5.5 26.5Z"/><path d="M-1.9 25L2 25L2.1 33L3.3 37.9L-3.6 37.9L-2 33Z"/></g><circle cx="168.4" cy="277.0" r="12.5" fill="#515151"/><g font-family="Liberation Serif" font-size="68" fill="#000"><text x="202" y="106.5">Cu</text><text x="193" y="169.5">Diamond</text><text x="194" y="235.8">WC</text><text x="195" y="296.8">Cr<tspan font-size="45" dy="17.2">3</tspan><tspan dy="-17.2">C</tspan><tspan font-size="45" dy="17.2">2</tspan></text></g><path d="M326.5 832.0V796.0M403.0 832.0V768.0M634.4 832.0V777.1M918.2 832.0V815.2M949.3 832.0V819.4M1081.6 832.0V812.4M1124.7 832.0V818.2M1153.4 832.0V814.6M1279.3 832.0V816.4" stroke="#A47A10" stroke-width="7.5" stroke-linecap="round" fill="none"/><path d="M164.9 899.0V888.2M274.5 899.0V887.4M350.4 899.0V879.1M394.4 899.0V876.2M409.5 899.0V882.5M418.1 899.0V884.1M466.9 899.0V834.8M477.0 899.0V883.0M488.4 899.0V855.8M531.6 899.0V877.6M538.4 899.0V883.8M584.2 899.0V875.1M603.2 899.0V864.5M618.6 899.0V873.5M628.7 899.0V871.2M641.4 899.0V862.8M666.7 899.0V874.2M685.9 899.0V875.1M695.4 899.0V888.2M701.0 899.0V884.4M736.7 899.0V875.1M760.3 899.0V887.0M781.3 899.0V885.5M820.8 899.0V886.0M853.6 899.0V883.8M878.9 899.0V885.2M932.0 899.0V887.0M949.6 899.0V887.0M954.1 899.0V879.1M977.1 899.0V888.2M995.2 899.0V886.0M1043.0 899.0V887.0M1074.1 899.0V888.1M1096.5 899.0V887.6M1119.5 899.0V886.0M1138.4 899.0V882.2M1153.0 899.0V885.8M1157.6 899.0V885.8M1163.5 899.0V884.8M1168.2 899.0V884.1M1184.2 899.0V885.8M1200.7 899.0V883.0M1208.7 899.0V883.0M1231.8 899.0V884.5M1238.8 899.0V886.2M1261.2 899.0V885.8M1265.9 899.0V885.8M1274.1 899.0V884.1M1296.5 899.0V886.2M1300.0 899.0V883.0M1322.4 899.0V884.1M1336.5 899.0V884.1M1365.9 899.0V886.8M1380.6 899.0V886.8" stroke="#515151" stroke-width="7.5" stroke-linecap="round" fill="none"/><path d="M555.5 968.0V902.8M1121.2 968.0V954.2" stroke="#006000" stroke-width="7.5" stroke-linecap="round" fill="none"/><path clip-path="url(#cpb)" d="M544.0 1035.0V971.8M672.8 1035.0V1007.2M1100.0 1035.0V1023.0M1385.0 1035.0V1020.5" stroke="#0066AA" stroke-width="7.5" stroke-linecap="round" fill="none"/><g font-family="Liberation Serif" font-size="53" fill="#000" text-anchor="end"><text x="1381" y="815">WC (PDF#51-0939)</text><text x="1380" y="874.3" textLength="475.4" lengthAdjust="spacing">Cr<tspan font-size="35.5" dy="13">3</tspan><tspan dy="-13">C</tspan><tspan font-size="35.5" dy="13">2</tspan><tspan dy="-13"> (PDF#35-0804)</tspan></text><text x="1380" y="952">Diamond (PDF#06-0675)</text><text x="1378.6" y="1018.5" textLength="412.8" lengthAdjust="spacing">Cu (PDF#04-0836)</text></g><path d="M124 767H1387M124 832H1387M124 899H1387M124 968H1387" stroke="#000" stroke-width="4" fill="none"/><rect x="124" y="16" width="1263" height="1019" fill="none" stroke="#000" stroke-width="4"/><path d="M124.00 1035V1055.0M214.21 1035V1045.0M304.43 1035V1055.0M394.64 1035V1045.0M484.86 1035V1055.0M575.07 1035V1045.0M665.29 1035V1055.0M755.50 1035V1045.0M845.71 1035V1055.0M935.93 1035V1045.0M1026.14 1035V1055.0M1116.36 1035V1045.0M1206.57 1035V1055.0M1296.79 1035V1045.0M1387.00 1035V1055.0" stroke="#000" stroke-width="4" fill="none"/><g font-family="Liberation Serif" font-size="80" fill="#000"><text x="124.00" y="1128.5" text-anchor="middle">20</text><text x="304.43" y="1128.5" text-anchor="middle">30</text><text x="484.86" y="1128.5" text-anchor="middle">40</text><text x="665.29" y="1128.5" text-anchor="middle">50</text><text x="845.71" y="1128.5" text-anchor="middle">60</text><text x="1026.14" y="1128.5" text-anchor="middle">70</text><text x="1206.57" y="1128.5" text-anchor="middle">80</text><text x="1387.00" y="1128.5" text-anchor="middle">90</text></g><text x="605.5" y="1221.8" font-family="Liberation Serif" font-size="85" fill="#000">2theta(°)</text><text transform="translate(73.5 773.5) rotate(-90)" x="0" y="0" font-family="Liberation Serif" font-size="84.6" fill="#000">Intensity (a.u.)</text></svg></body></html>
